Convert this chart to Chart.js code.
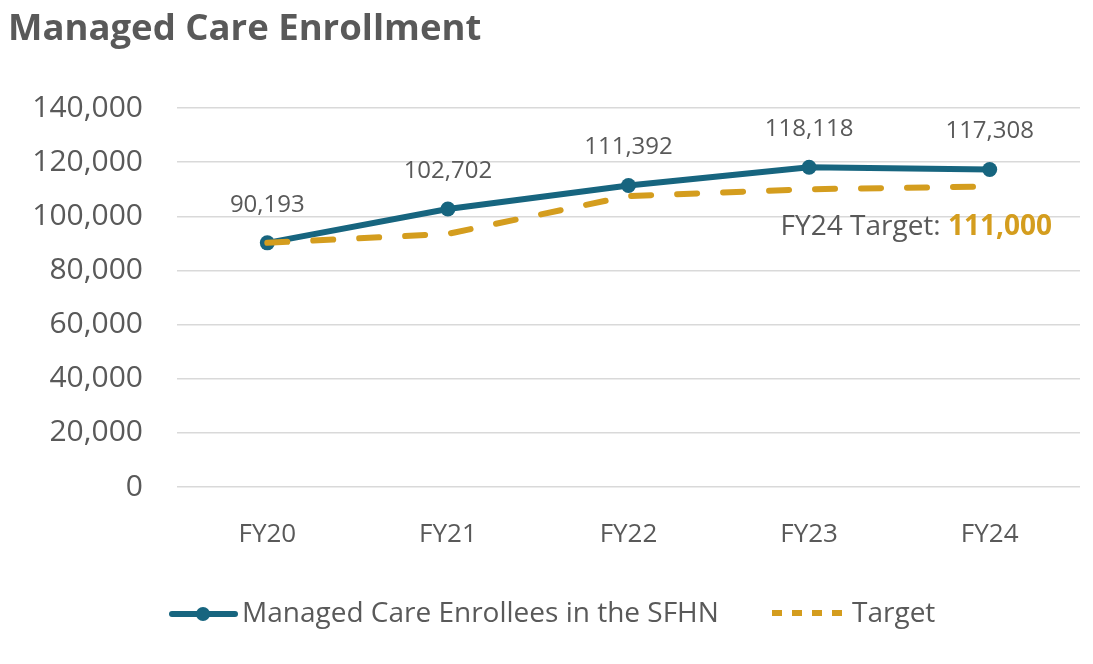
<!DOCTYPE html>
<html><head><meta charset="utf-8">
<script src="https://cdn.jsdelivr.net/npm/chart.js@4.4.1/dist/chart.umd.min.js"></script>
<style>html,body{margin:0;padding:0;background:#fff;}canvas{display:block;}</style>
</head><body>
<canvas id="c" width="1093" height="664"></canvas>
<script>
const categories = ["FY20","FY21","FY22","FY23","FY24"];
const enrollees = [90193, 102702, 111392, 118118, 117308];
const target = [90193, 93500, 107500, 110000, 111000];
const yTicks = [0,20000,40000,60000,80000,100000,120000,140000];
const titleText = "Managed Care Enrollment";
const seriesNames = ["Managed Care Enrollees in the SFHN", "Target"];
const annotationLabel = "FY24 Target: ";
const annotationValue = "111,000";

const BLUE = "#17657F";
const GOLD = "#D49D1E";
const GRAY = "#595959";
const FONT = "'Open Sans', 'Noto Sans', sans-serif";
const fmt = v => v.toLocaleString("en-US");

const overlay = {
  id: "overlay",
  afterDraw(chart) {
    const ctx = chart.ctx;
    const x = chart.scales.x, y = chart.scales.y;
    ctx.save();
    // title
    ctx.fillStyle = GRAY;
    ctx.font = "bold 36.5px " + FONT;
    ctx.textAlign = "left"; ctx.textBaseline = "middle";
    ctx.fillText(titleText, 8, 30);
    // data labels
    ctx.font = "24px " + FONT;
    ctx.textAlign = "center"; ctx.textBaseline = "middle";
    enrollees.forEach((v, i) => {
      ctx.fillText(fmt(v), x.getPixelForValue(i), y.getPixelForValue(v) - 38);
    });
    // annotation
    const ax = 1052;
    const ay = y.getPixelForValue(target[4]) + 41;
    ctx.font = "bold 28px " + FONT;
    const wv = ctx.measureText(annotationValue).width;
    ctx.fillStyle = GOLD; ctx.textAlign = "right";
    ctx.fillText(annotationValue, ax, ay);
    ctx.font = "28px " + FONT;
    ctx.fillStyle = GRAY;
    ctx.fillText(annotationLabel, ax - wv, ay);
    // legend
    const ly = 614;
    ctx.lineCap = "round";
    ctx.strokeStyle = BLUE; ctx.lineWidth = 6;
    ctx.beginPath(); ctx.moveTo(172, ly); ctx.lineTo(235, ly); ctx.stroke();
    ctx.fillStyle = BLUE;
    ctx.beginPath(); ctx.arc(203, ly, 7, 0, Math.PI * 2); ctx.fill();
    ctx.fillStyle = GRAY; ctx.textAlign = "left";
    ctx.font = "28px " + FONT;
    ctx.fillText(seriesNames[0], 242, ly);
    ctx.strokeStyle = GOLD; ctx.lineWidth = 6; ctx.lineCap = "butt";
    ctx.setLineDash([10, 10]);
    ctx.beginPath(); ctx.moveTo(772, ly - 1); ctx.lineTo(842, ly - 1); ctx.stroke();
    ctx.setLineDash([]);
    ctx.fillText(seriesNames[1], 852, ly);
    ctx.restore();
  }
};

new Chart(document.getElementById("c"), {
  type: "line",
  data: {
    labels: categories,
    datasets: [
      { label: seriesNames[0], data: enrollees, borderColor: BLUE, backgroundColor: BLUE,
        borderWidth: 6, pointRadius: 7.5, pointBackgroundColor: BLUE, pointBorderWidth: 0,
        tension: 0, order: 2 },
      { label: seriesNames[1], data: target, borderColor: GOLD, borderWidth: 6,
        borderDash: [20, 26], borderCapStyle: "round", pointRadius: 0, tension: 0, order: 1 }
    ]
  },
  options: {
    responsive: false, animation: false,
    layout: { padding: { top: 108, right: 13, bottom: 107, left: 0 } },
    plugins: { legend: { display: false }, tooltip: { enabled: false }, title: { display: false } },
    scales: {
      x: {
        offset: true,
        grid: { display: false, drawTicks: false, offset: true }, border: { display: false },
        ticks: { color: GRAY, font: { family: FONT, size: 26 }, padding: 32 },
        afterFit(s) { s.height = 70; }
      },
      y: {
        min: 0, max: 140000,
        afterBuildTicks(s) { s.ticks = yTicks.map(v => ({ value: v })); },
        grid: { color: "#D9D9D9", lineWidth: 1.5, drawTicks: false }, border: { display: false },
        ticks: { color: GRAY, font: { family: FONT, size: 30 }, padding: 34, callback: v => fmt(v) },
        afterFit(s) { s.width = 177; }
      }
    }
  },
  plugins: [overlay]
});
</script>
</body></html>
